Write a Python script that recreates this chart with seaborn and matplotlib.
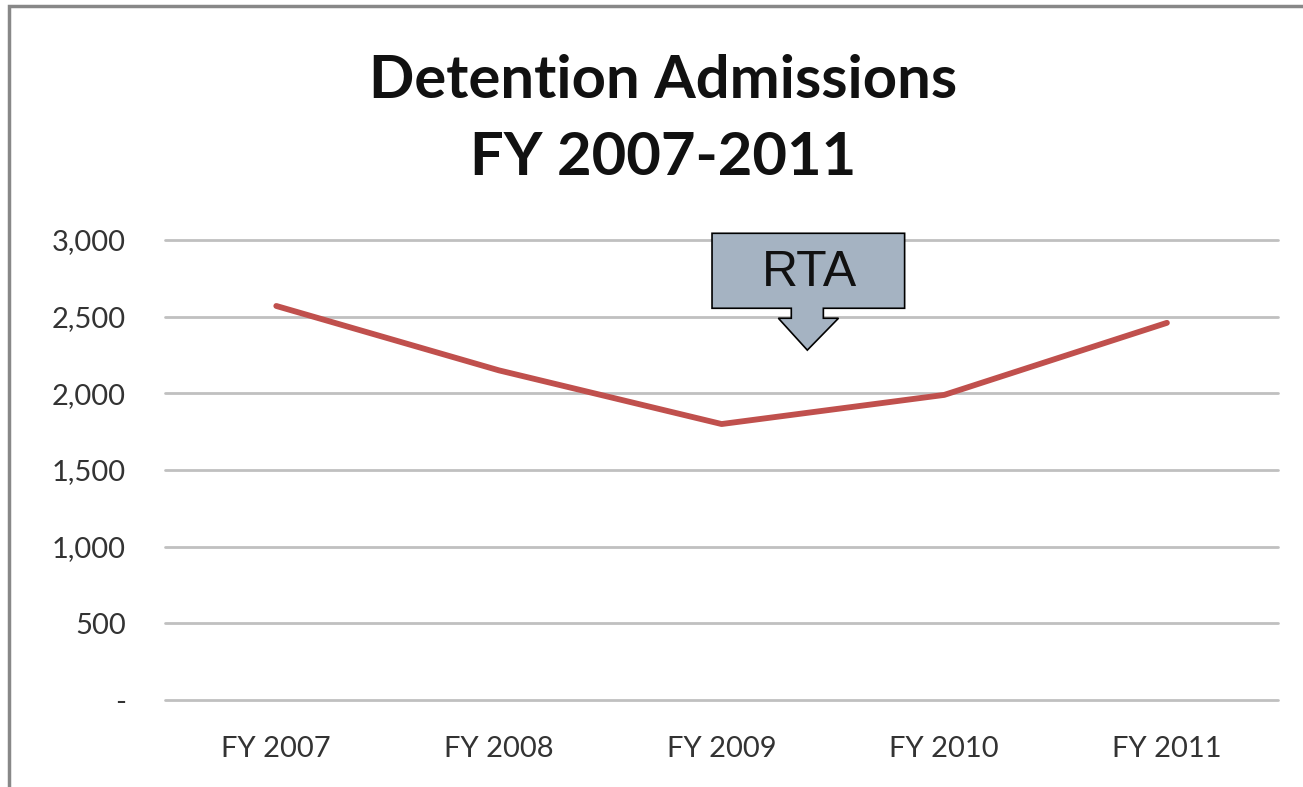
import matplotlib
matplotlib.use('Agg')
import matplotlib.pyplot as plt
import seaborn as sns
import pandas as pd
from matplotlib.patches import Polygon, Rectangle
from matplotlib.ticker import FuncFormatter

# Data
years = ['FY 2007', 'FY 2008', 'FY 2009', 'FY 2010', 'FY 2011']
admissions = [2570, 2150, 1800, 1990, 2460]
y_ticks = [0, 500, 1000, 1500, 2000, 2500, 3000]

df = pd.DataFrame({'year': years, 'admissions': admissions})

sns.set_style('white')
plt.rcParams['font.family'] = ['Lato', 'DejaVu Sans']

fig = plt.figure(figsize=(13.03, 7.87), dpi=100)
ax = fig.add_axes([0.1266, 0.1105, 0.981 - 0.1266, 0.695 - 0.1105])

sns.lineplot(data=df, x='year', y='admissions', ax=ax, color='#C0504D',
             linewidth=4.2, sort=False)

ax.set_xlim(-0.5, 4.5)
ax.set_ylim(0, 3000)
ax.set_yticks(y_ticks)
ax.yaxis.set_major_formatter(FuncFormatter(lambda v, p: '-' if v == 0 else f'{int(v):,}'))
ax.grid(axis='y', color='#C0C0C0', linewidth=2)
ax.grid(axis='x', visible=False)
ax.set_axisbelow(True)
for gl in ax.get_ygridlines():
    gl.set_clip_on(False)
for s in ax.spines.values():
    s.set_visible(False)
ax.tick_params(axis='y', length=0, pad=28, labelsize=21, labelcolor='#333333')
ax.tick_params(axis='x', length=0, pad=26, labelsize=21, labelcolor='#333333')
ax.set_xlabel('')
ax.set_ylabel('')

fig.text(0.509, 0.848, 'Detention Admissions\nFY 2007-2011', ha='center', va='center',
         fontsize=43, fontweight='bold', color='#111111', linespacing=1.52)

# RTA callout (down arrow shape)
callout = [(1.957, 3044), (2.822, 3044), (2.822, 2555), (2.457, 2555), (2.457, 2490),
           (2.525, 2490), (2.385, 2282), (2.255, 2490), (2.313, 2490), (2.313, 2555),
           (1.957, 2555)]
ax.add_patch(Polygon(callout, closed=True, facecolor='#A5B3C2', edgecolor='black',
                     linewidth=1.2, clip_on=False, zorder=5))
ax.text(2.395, 2783, 'RTA', ha='center', va='center', fontsize=36,
        family=['Liberation Sans', 'DejaVu Sans'], color='#111111', zorder=6)

# outer frame
fig.patches.append(Rectangle((9 / 1303, -0.05), 1.2, 1 - 6 / 787 + 0.05,
                             transform=fig.transFigure, fill=False,
                             edgecolor='#888888', linewidth=2.5))

fig.savefig('out.png', dpi=100)
